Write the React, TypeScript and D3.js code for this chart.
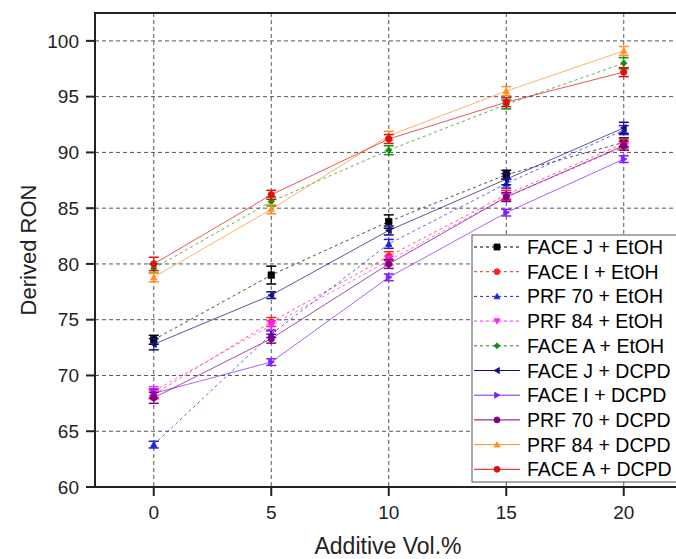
import React from "react";
import * as d3 from "d3";

const xValues = [0, 5, 10, 15, 20];
const xTicks = [0, 5, 10, 15, 20];
const yTicks = [60, 65, 70, 75, 80, 85, 90, 95, 100];

const seriesNames = [
  "FACE J + EtOH",
  "FACE I + EtOH",
  "PRF 70 + EtOH",
  "PRF 84 + EtOH",
  "FACE A + EtOH",
  "FACE J + DCPD",
  "FACE I + DCPD",
  "PRF 70 + DCPD",
  "PRF 84 + DCPD",
  "FACE A + DCPD",
];

const faceJEtOH = [73.2, 79.0, 83.8, 88.0, 90.9];
const faceIEtOH = [68.3, 74.8, 80.7, 86.2, 90.8];
const prf70EtOH = [63.8, 73.7, 81.8, 87.2, 92.0];
const prf84EtOH = [68.6, 74.5, 80.3, 86.0, 90.5];
const faceAEtOH = [79.6, 85.6, 90.2, 94.3, 98.0];
const faceJDCPD = [72.8, 77.2, 83.0, 87.6, 92.2];
const faceIDCPD = [68.4, 71.2, 78.8, 84.6, 89.4];
const prf70DCPD = [68.0, 73.3, 80.0, 86.0, 90.6];
const prf84DCPD = [78.8, 84.9, 91.5, 95.5, 99.1];
const faceADCPD = [80.0, 86.2, 91.2, 94.5, 97.2];

const faceJEtOHErr = [0.4, 0.8, 0.6, 0.4, 0.4];
const faceIEtOHErr = [0.4, 0.4, 0.4, 0.4, 0.4];
const prf70EtOHErr = [0.3, 0.3, 0.4, 0.4, 0.4];
const prf84EtOHErr = [0.4, 0.4, 0.4, 0.3, 0.3];
const faceAEtOHErr = [0.4, 0.4, 0.4, 0.4, 0.5];
const faceJDCPDErr = [0.5, 0.3, 0.4, 0.5, 0.5];
const faceIDCPDErr = [0.4, 0.3, 0.3, 0.3, 0.3];
const prf70DCPDErr = [0.5, 0.4, 0.4, 0.4, 0.4];
const prf84DCPDErr = [0.4, 0.4, 0.4, 0.4, 0.4];
const faceADCPDErr = [0.6, 0.4, 0.4, 0.4, 0.4];

const seriesValues = [
  faceJEtOH, faceIEtOH, prf70EtOH, prf84EtOH, faceAEtOH,
  faceJDCPD, faceIDCPD, prf70DCPD, prf84DCPD, faceADCPD,
];
const seriesErrors = [
  faceJEtOHErr, faceIEtOHErr, prf70EtOHErr, prf84EtOHErr, faceAEtOHErr,
  faceJDCPDErr, faceIDCPDErr, prf70DCPDErr, prf84DCPDErr, faceADCPDErr,
];
const seriesColors = [
  "#000000", "#ff2020", "#2020e0", "#ff20ff", "#109010",
  "#101080", "#8020ff", "#800080", "#ff9020", "#e01010",
];
const seriesDashed = [true, true, true, true, true, false, false, false, false, false];
const seriesShapes = [
  "square", "circle", "triUp", "triDown", "diamond",
  "triLeft", "triRight", "circle", "triUp", "circle",
];

const FONT = "Arial, 'Liberation Sans', sans-serif";

function markerPath(shape: string, cx: number, cy: number, r: number) {
  switch (shape) {
    case "square":
      return `M${cx - r},${cy - r}h${2 * r}v${2 * r}h${-2 * r}Z`;
    case "triUp":
      return `M${cx},${cy - r}L${cx + r},${cy + r * 0.8}L${cx - r},${cy + r * 0.8}Z`;
    case "triDown":
      return `M${cx},${cy + r}L${cx + r},${cy - r * 0.8}L${cx - r},${cy - r * 0.8}Z`;
    case "triLeft":
      return `M${cx - r},${cy}L${cx + r * 0.8},${cy - r}L${cx + r * 0.8},${cy + r}Z`;
    case "triRight":
      return `M${cx + r},${cy}L${cx - r * 0.8},${cy - r}L${cx - r * 0.8},${cy + r}Z`;
    case "diamond":
      return `M${cx},${cy - r}L${cx + r},${cy}L${cx},${cy + r}L${cx - r},${cy}Z`;
    default:
      return `M${cx - r},${cy}A${r},${r} 0 1,0 ${cx + r},${cy}A${r},${r} 0 1,0 ${cx - r},${cy}Z`;
  }
}

export default function App() {
  const W = 676;
  const H = 559;
  const left = 95;
  const top = 13;
  const bottom = 487;
  const x = d3.scaleLinear().domain([-2.5, 22.5]).range([left, left + 25 * 23.5]);
  const y = d3.scaleLinear().domain([60, 102.5]).range([bottom, top]);
  const right = x(22.5);

  const line = d3
    .line<number>()
    .x((_, i) => x(xValues[i]))
    .y((v) => y(v));

  const legX = 472;
  const legY = 235;
  const legRow = 24.7;

  return (
    <svg
      width={W}
      height={H}
      style={{ position: "fixed", left: 0, top: 0, background: "#fff" }}
      fontFamily={FONT}
    >
      <rect x={0} y={0} width={W} height={H} fill="#fff" />
      {/* grid */}
      {yTicks.slice(1).map((t) => (
        <line key={"gy" + t} x1={left} x2={right} y1={y(t)} y2={y(t)} stroke="#555" strokeWidth={1} strokeDasharray="4,3" />
      ))}
      {xTicks.map((t) => (
        <line key={"gx" + t} x1={x(t)} x2={x(t)} y1={top} y2={bottom} stroke="#555" strokeWidth={1} strokeDasharray="4,3" />
      ))}

      {/* series lines */}
      {seriesValues.map((vals, si) => (
        <path
          key={"l" + si}
          d={line(vals) || ""}
          fill="none"
          stroke={seriesColors[si]}
          strokeWidth={1}
          strokeOpacity={0.7}
          strokeDasharray={seriesDashed[si] ? "3,3" : undefined}
        />
      ))}

      {/* error bars and markers */}
      {seriesValues.map((vals, si) => (
        <g key={"m" + si} stroke={seriesColors[si]} fill={seriesColors[si]}>
          {vals.map((v, i) => {
            const cx = x(xValues[i]);
            const e = seriesErrors[si][i];
            const y1 = y(v + e);
            const y2 = y(v - e);
            return (
              <g key={i}>
                <line x1={cx} x2={cx} y1={y1} y2={y2} strokeWidth={1.2} />
                <line x1={cx - 5} x2={cx + 5} y1={y1} y2={y1} strokeWidth={1.5} />
                <line x1={cx - 5} x2={cx + 5} y1={y2} y2={y2} strokeWidth={1.5} />
                <path d={markerPath(seriesShapes[si], cx, y(v), 3.2)} strokeWidth={0.8} />
              </g>
            );
          })}
        </g>
      ))}

      {/* frame */}
      <line x1={left} x2={left} y1={top} y2={bottom} stroke="#222" strokeWidth={2} />
      <line x1={left - 1} x2={right} y1={top} y2={top} stroke="#222" strokeWidth={2} />
      <line x1={left - 1} x2={right} y1={bottom} y2={bottom} stroke="#222" strokeWidth={2} />

      {/* y ticks */}
      {yTicks.map((t) => (
        <g key={"yt" + t}>
          <line x1={left - 9} x2={left} y1={y(t)} y2={y(t)} stroke="#222" strokeWidth={2} />
          <text x={79} y={y(t)} dy="0.35em" textAnchor="end" fontSize={19} fill="#222">
            {t}
          </text>
        </g>
      ))}
      {/* x ticks */}
      {xTicks.map((t) => (
        <g key={"xt" + t}>
          <line x1={x(t)} x2={x(t)} y1={bottom} y2={bottom + 9} stroke="#222" strokeWidth={2} />
          <text x={x(t)} y={519} textAnchor="middle" fontSize={19} fill="#222">
            {t}
          </text>
        </g>
      ))}

      <text x={388} y={554} textAnchor="middle" fontSize={23} fill="#222">
        Additive Vol.%
      </text>
      <text
        transform={`translate(36, ${(top + bottom) / 2}) rotate(-90)`}
        textAnchor="middle"
        fontSize={22}
        fill="#222"
      >
        Derived RON
      </text>

      {/* legend */}
      <rect x={legX} y={legY} width={W} height={482 - legY} fill="#fff" stroke="#555" strokeWidth={1} />
      {seriesNames.map((name, si) => {
        const cy = legY + 12 + si * legRow;
        return (
          <g key={"lg" + si}>
            <line
              x1={legX + 2}
              x2={legX + 48}
              y1={cy}
              y2={cy}
              stroke={seriesColors[si]}
              strokeWidth={1}
              strokeDasharray={seriesDashed[si] ? "3,3" : undefined}
            />
            <path
              d={markerPath(seriesShapes[si], legX + 25, cy, 3)}
              fill={seriesColors[si]}
              stroke={seriesColors[si]}
              strokeWidth={0.8}
            />
            <text x={527} y={cy} dy="0.36em" fontSize={19.5} fill="#000">
              {name}
            </text>
          </g>
        );
      })}
    </svg>
  );
}
